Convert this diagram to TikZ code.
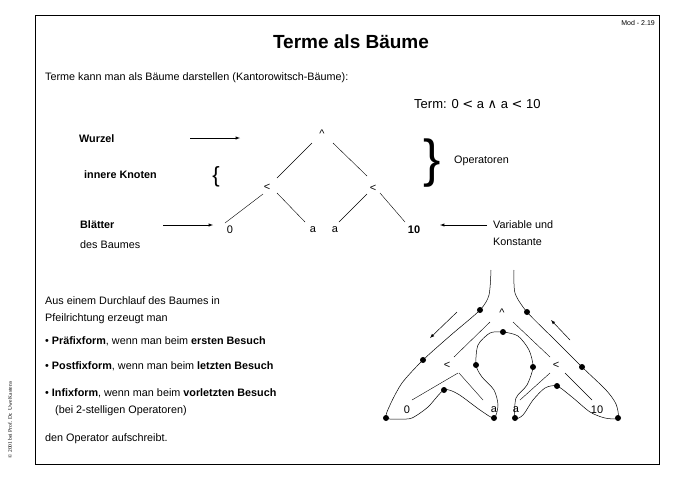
\documentclass[tikz,border=0pt]{standalone}
\usepackage{fontspec}
\setmainfont{Liberation Sans}
\newfontfamily\serifcr{Liberation Serif}
\newfontfamily\dejavu{DejaVu Sans}
\begin{document}
\begin{tikzpicture}[x=1pt,y=-1pt,
  txt/.style={inner sep=0pt,anchor=base west,font=\fontsize{10.8}{12}\selectfont},
  op/.style={inner sep=1pt,font=\fontsize{11}{12}\selectfont},
  edge/.style={line width=0.4pt},
  arr/.style={-latex,line width=0.5pt},
  dot/.style={circle,fill=black,inner sep=0pt,minimum size=6pt}]
\useasboundingbox (0,0) rectangle (678,480);
\draw[line width=0.6pt] (35,15) rectangle (659,464);
\node[inner sep=0pt,anchor=base east,font=\fontsize{7}{8}\selectfont] (mod) at (655,25) {Mod - 2.19};
\node[inner sep=0pt,font=\bfseries\fontsize{19}{22}\selectfont] (title) at (351,42) {Terme als Bäume};
\node[txt] (intro) at (45,80) {Terme kann man als Bäume darstellen (Kantorowitsch-Bäume):};
\node[txt,font=\fontsize{13}{14}\selectfont] (term) at (414,108) {Term: 0 {\dejavu<} a {\dejavu∧} a {\dejavu<} 10};
% upper tree
\node[op] (r) at (322,134) {\^{}};
\node[op] (l1) at (267,187) {<};
\node[op] (r1) at (373,188) {<};
\node[op] (z) at (230,230) {0};
\node[op] (a1) at (313,230) {a};
\node[op] (a2) at (335,230) {a};
\node[op,font=\bfseries\fontsize{11}{12}\selectfont] (t) at (414,230) {10};
\draw[edge] (312,143) -- (277,178) (333,143) -- (367,176)
  (263,194) -- (225,223) (277,193) -- (305,222)
  (367,194) -- (339,222) (380,193) -- (405,222);
\node[txt,font=\bfseries\fontsize{10.8}{12}\selectfont] (wz) at (79,142) {Wurzel};
\node[txt,font=\bfseries\fontsize{10.8}{12}\selectfont] (ik) at (84,178) {innere Knoten};
\node[txt,font=\bfseries\fontsize{10.8}{12}\selectfont] (bl) at (80,228) {Blätter};
\node[txt] (db) at (80,248) {des Baumes};
\node[txt] (vu) at (493,228) {Variable und};
\node[txt] (ko) at (493,245) {Konstante};
\node[txt] (opn) at (454,163) {Operatoren};
\coordinate (wa) at (240,138); \coordinate (ba) at (213,225); \coordinate (va) at (440,225);
\draw[arr] (190,138) -- (wa);
\draw[arr] (163,225) -- (ba);
\draw[arr] (487,225) -- (va);
\node[inner sep=0pt,font=\fontsize{22}{22}\selectfont] (br1) at (216,177) {\{};
\node[inner sep=0pt,font=\fontsize{52}{52}\selectfont] (br2) at (432,163) {\}};
% lower text
\node[txt] (p1) at (45,304) {Aus einem Durchlauf des Baumes in};
\node[txt] (p2) at (45,321) {Pfeilrichtung erzeugt man};
\node[txt] (b1) at (45,344) {\textbullet\ \textbf{Präfixform}, wenn man beim \textbf{ersten Besuch}};
\node[txt] (b2) at (45,369) {\textbullet\ \textbf{Postfixform}, wenn man beim \textbf{letzten Besuch}};
\node[txt] (b3) at (45,396) {\textbullet\ \textbf{Infixform}, wenn man beim \textbf{vorletzten Besuch}};
\node[txt] (b4) at (55,413) {(bei 2-stelligen Operatoren)};
\node[txt] (p3) at (45,441) {den Operator aufschreibt.};
\node[rotate=90,inner sep=0pt,font=\serifcr\fontsize{5.5}{6}\selectfont] (cp) at (10,420) {© 2001 bei Prof. Dr. Uwe Kastens};
% lower tree
\node[op] (R) at (502,313) {\^{}};
\node[op] (L) at (447,365) {<};
\node[op] (Rr) at (556,365) {<};
\node[op] (Z) at (407,410) {0};
\node[op] (A1) at (494,410) {a};
\node[op] (A2) at (516,410) {a};
\node[op] (T) at (597,410) {10};
\draw[edge] (490,322) -- (454,357) (513,322) -- (550,357)
  (458,373) -- (412,400) (459,373) -- (483,400)
  (550,373) -- (520,400) (565,373) -- (592,400);
\draw[line width=0.5pt] plot[smooth,tension=0.45] coordinates {
 (491,270) (489,295) (480,310) (451,335) (423,360) (402,383) (390,405) (386,418) (400,419) (412,418) (428,407) (444,390) (458,394) (480,410) (494,418) (498,405) (494,390) (482,377) (476,365) (478,345) (490,333) (503,332) (518,336) (529,350) (533,367) (527,385) (516,398) (515,418) (523,415) (533,400) (545,388) (557,386) (572,397) (590,412) (605,418) (618,418) (616,404) (606,390) (582,367) (555,340) (527,312) (515,293) (514,270)};
\foreach \p [count=\i] in {(480,310),(423,360),(386,418),(444,390),(494,418),(476,365),(503,332),(533,367),(515,418),(557,386),(618,418),(582,367),(527,312)}
  \node[dot] (d\i) at \p {};
\coordinate (ae1) at (430,338); \coordinate (ae2) at (551,320);
\draw[arr] (457,312) -- (ae1);
\draw[arr] (570,340) -- (ae2);
\end{tikzpicture}
\end{document}
